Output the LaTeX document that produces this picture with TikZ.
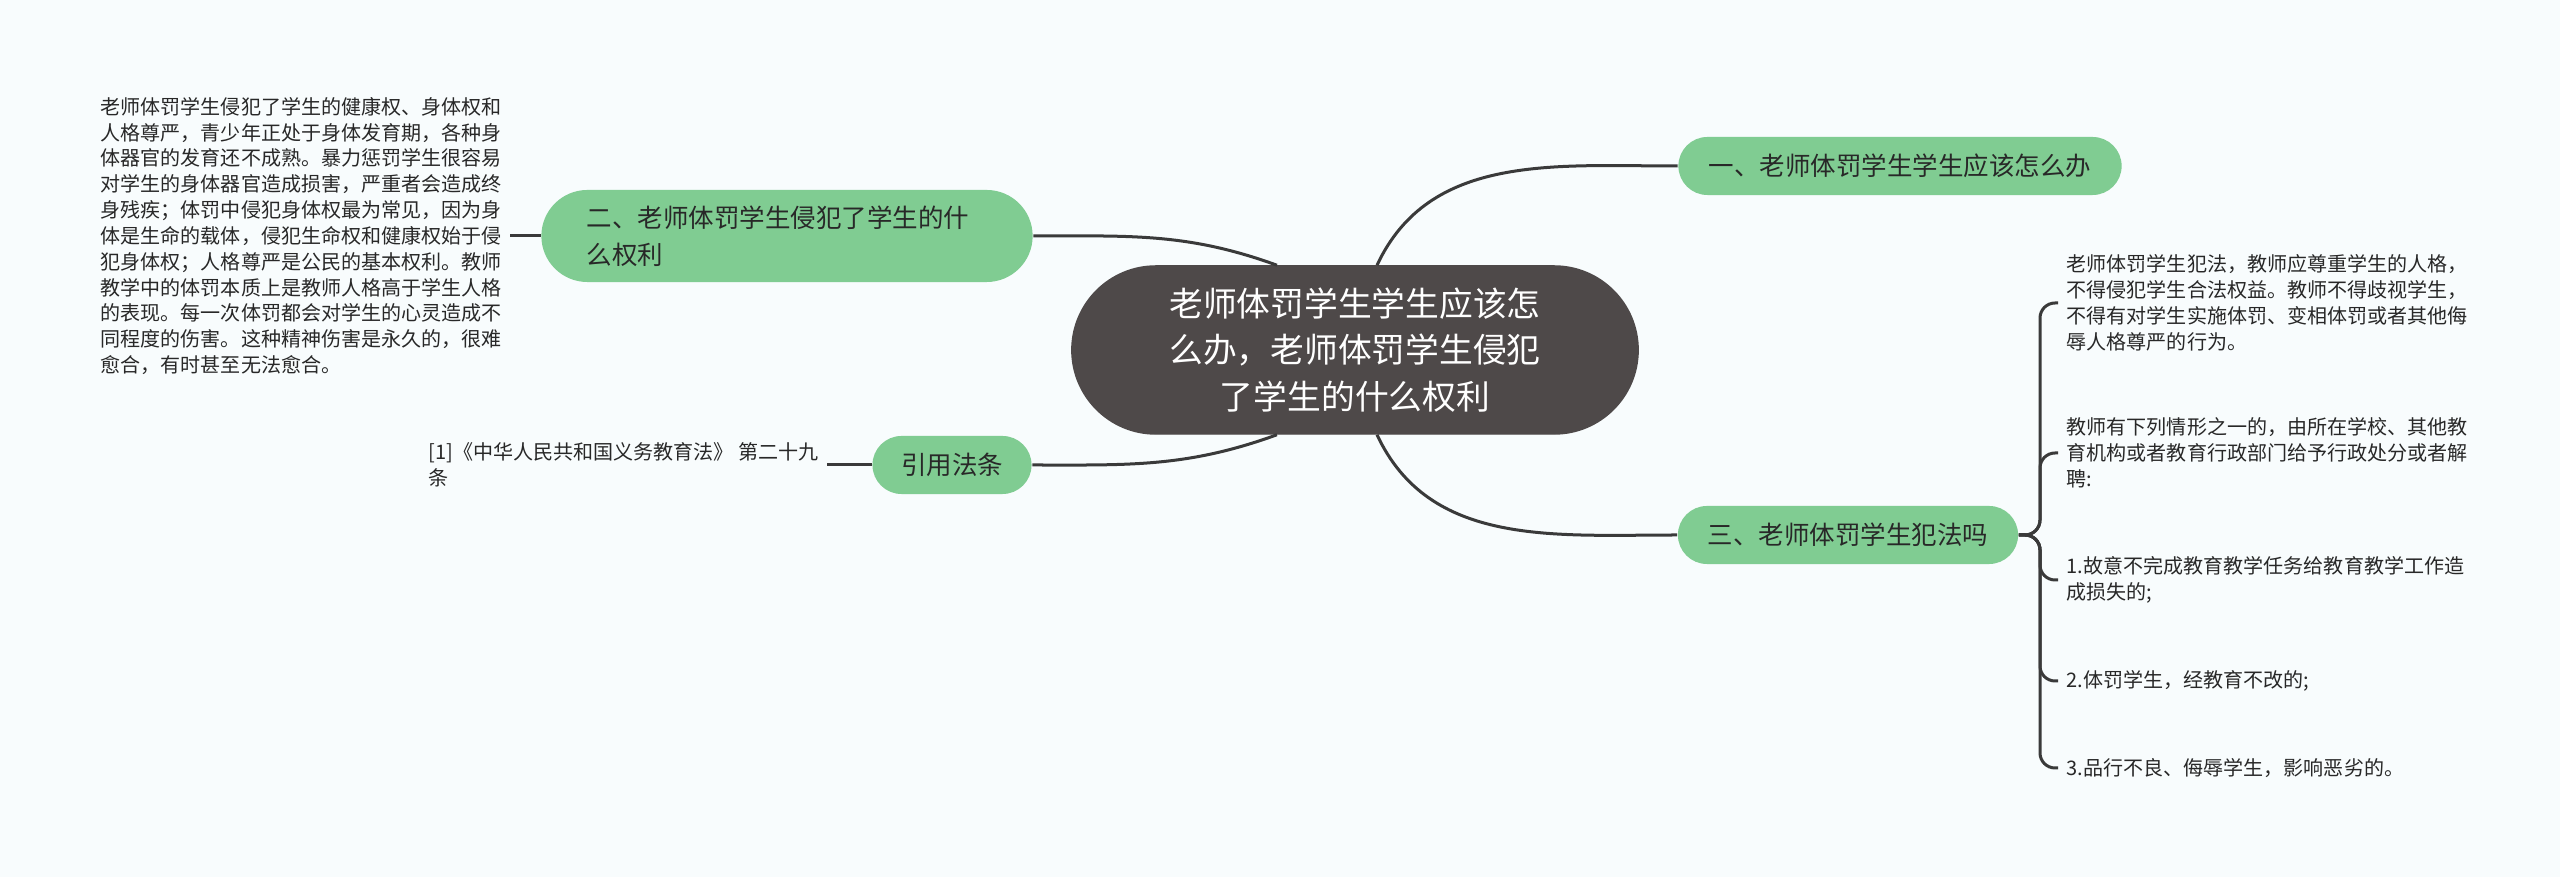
\documentclass[tikz,border=0pt]{standalone}
\usepackage{fontspec}
\setmainfont{Noto Sans CJK SC}
\usepackage{xcolor}
\usepackage{tikz}
\usetikzlibrary{positioning}

\definecolor{bgcol}{RGB}{248,252,253}
\definecolor{topicgreen}{RGB}{128,204,146}
\definecolor{rootgray}{RGB}{78,73,73}
\definecolor{linegray}{RGB}{58,58,58}
\definecolor{textgray}{RGB}{40,40,40}

\begin{document}
\begin{tikzpicture}[
  x=0.01cm, y=-0.01cm,
  root/.style={fill=rootgray, draw=rootgray, text=white, align=center, inner sep=0pt,
    minimum width=5.66cm, minimum height=1.68cm, rounded corners=0.84cm,
    font=\fontsize{9.6}{13.2}\selectfont},
  topic/.style={fill=topicgreen, text=textgray, inner sep=0pt,
    minimum height=0.58cm, rounded corners=0.29cm,
    font=\fontsize{7.25}{10.5}\selectfont},
  leaf/.style={text=textgray, align=left, inner xsep=0.08cm, inner ysep=0pt,
    font=\fontsize{5.7}{7.35}\selectfont},
]
\tikzset{branch/.style={draw=linegray, line width=0.03cm}}
\fill[bgcol] (0,0) rectangle (2560,877);
\useasboundingbox (0,0) rectangle (2560,877);

\node[root] (root) at (1355,350) {老师体罚学生学生应该怎\\么办，老师体罚学生侵犯\\了学生的什么权利};
\node[topic, minimum width=4.43cm] (t1) at (1900,166) {一、老师体罚学生学生应该怎么办};
\node[topic, minimum width=4.91cm, minimum height=0.92cm, rounded corners=0.46cm,
  align=left, text width=4.0cm] (t2) at (787,236) {二、老师体罚学生侵犯了学生的什\\么权利};
\node[topic, minimum width=3.40cm] (t3) at (1848,535) {三、老师体罚学生犯法吗};
\node[topic, minimum width=1.59cm] (law) at (952,465) {引用法条};

\node[leaf, anchor=west] (t2txt) at (92,236) {老师体罚学生侵犯了学生的健康权、身体权和\\人格尊严，青少年正处于身体发育期，各种身\\体器官的发育还不成熟。暴力惩罚学生很容易\\对学生的身体器官造成损害，严重者会造成终\\身残疾；体罚中侵犯身体权最为常见，因为身\\体是生命的载体，侵犯生命权和健康权始于侵\\犯身体权；人格尊严是公民的基本权利。教师\\教学中的体罚本质上是教师人格高于学生人格\\的表现。每一次体罚都会对学生的心灵造成不\\同程度的伤害。这种精神伤害是永久的，很难\\愈合，有时甚至无法愈合。};
\node[leaf, anchor=west] (lawtxt) at (420,465) {[1]《中华人民共和国义务教育法》 第二十九\\条};

\node[leaf, anchor=west] (a1) at (2058,303) {老师体罚学生犯法，教师应尊重学生的人格，\\不得侵犯学生合法权益。教师不得歧视学生，\\不得有对学生实施体罚、变相体罚或者其他侮\\辱人格尊严的行为。};
\node[leaf, anchor=west] (a2) at (2058,453) {教师有下列情形之一的，由所在学校、其他教\\育机构或者教育行政部门给予行政处分或者解\\聘:};
\node[leaf, anchor=west] (a3) at (2058,580) {1.故意不完成教育教学任务给教育教学工作造\\成损失的;};
\node[leaf, anchor=west] (a4) at (2058,681) {2.体罚学生，经教育不改的;};
\node[leaf, anchor=west] (a5) at (2058,768) {3.品行不良、侮辱学生，影响恶劣的。};

% main branches
\draw[branch] ([xshift=0.22cm]root.north) to[out=65,in=180] (t1.west);
\draw[branch] ([xshift=-0.78cm]root.north) to[out=160,in=0] (t2.east);
\draw[branch] ([xshift=-0.78cm]root.south) to[out=200,in=0] (law.east);
\draw[branch] ([xshift=0.22cm]root.south) to[out=-65,in=180] (t3.west);

\draw[branch] (t2txt.east) -- (t2.west);
\draw[branch] (lawtxt.east) -- (law.west);

% bracket on the right
\foreach \leafnode in {a1,a2,a3,a4,a5}
  \draw[branch, rounded corners=0.15cm] (t3.east) -- (2040,535) |- (\leafnode.west);
\end{tikzpicture}
\end{document}
